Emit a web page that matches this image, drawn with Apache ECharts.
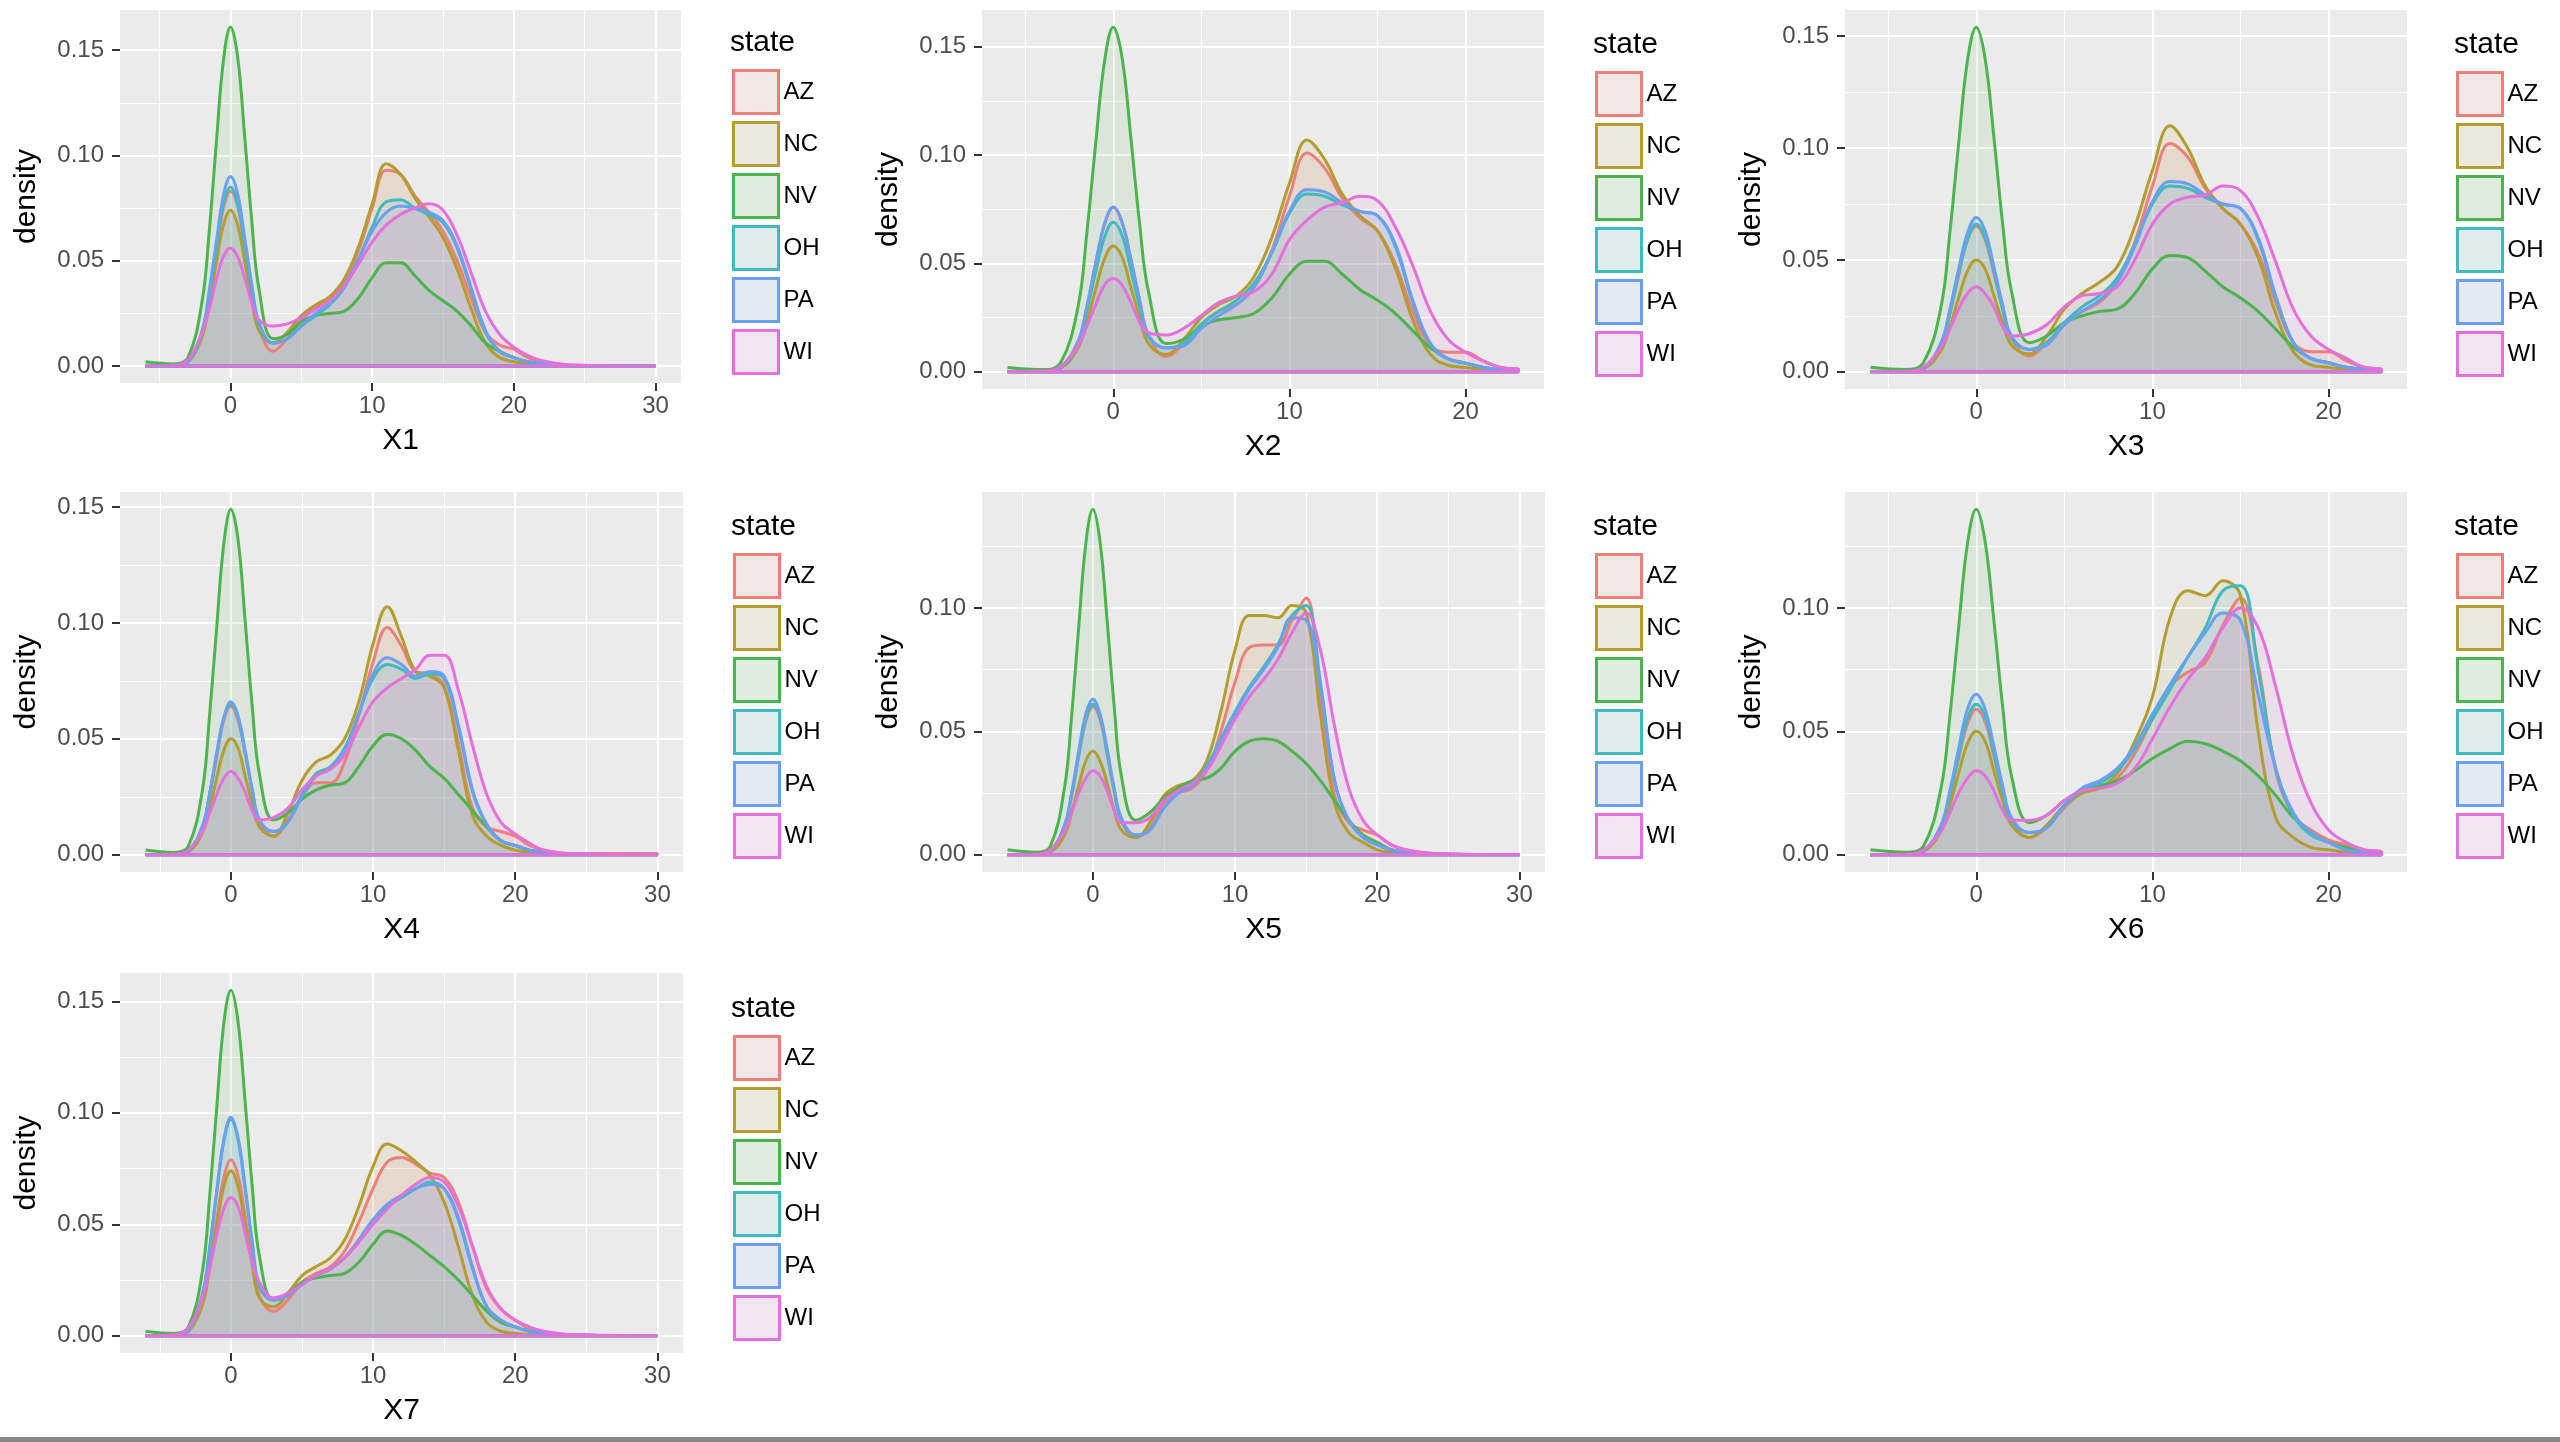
<!DOCTYPE html>
<html>
<head>
<meta charset="utf-8">
<title>density by state</title>
<script src="https://cdn.jsdelivr.net/npm/echarts@6/dist/echarts.min.js"></script>
<style>
  html, body { margin: 0; padding: 0; background: #fff; }
  #chart { width: 2560px; height: 1442px; }
</style>
</head>
<body>
<div id="chart"></div>
<script>
// states, in legend order, with the ggplot hue colours
const states = ['AZ', 'NC', 'NV', 'OH', 'PA', 'WI']
const stateColors = ['#EC8078', '#B39D2E', '#4CB44C', '#3FBBBF', '#6B9FF0', '#E56FDC']
const panelNames = ['X1', 'X2', 'X3', 'X4', 'X5', 'X6', 'X7']

// x positions the densities were read at
const xsWide = [-6, -4, -3, -2, -1.5, -1, -0.5, 0, 0.5, 1, 1.5, 2,
  3, 4, 5, 6, 7, 8, 9, 10, 11, 12, 13, 14, 15, 16, 17, 18, 19, 20, 21, 22, 24, 30]
const xsNarrow = [-6, -4, -3, -2, -1.5, -1, -0.5, 0, 0.5, 1, 1.5, 2,
  3, 4, 5, 6, 7, 8, 9, 10, 11, 12, 13, 14, 15, 16, 17, 18, 19, 20, 21, 22, 23]

// tick labels
const xTickValues = [0, 10, 20, 30]
const yTickValues = [0, 0.05, 0.10, 0.15]

// X1
const x1AZ = [0, 0, 0.002, 0.016, 0.033, 0.055, 0.075, 0.083, 0.076, 0.056, 0.036, 0.019,
  0.007, 0.013, 0.022, 0.028, 0.032, 0.039, 0.054, 0.075, 0.093, 0.091, 0.081, 0.073, 0.064, 0.050, 0.032, 0.016, 0.010, 0.008, 0.004, 0.002, 0.0005, 0]
const x1NC = [0, 0, 0.0018, 0.014, 0.030, 0.049, 0.067, 0.074, 0.067, 0.050, 0.032, 0.017,
  0.011, 0.016, 0.024, 0.029, 0.033, 0.041, 0.056, 0.077, 0.096, 0.091, 0.080, 0.071, 0.061, 0.046, 0.027, 0.011, 0.004, 0.002, 0.001, 0.0005, 0, 0]
const x1NV = [0.002, 0.001, 0.004, 0.031, 0.064, 0.106, 0.145, 0.161, 0.147, 0.109, 0.069, 0.037,
  0.013, 0.015, 0.021, 0.024, 0.025, 0.026, 0.032, 0.042, 0.049, 0.049, 0.043, 0.036, 0.031, 0.026, 0.019, 0.011, 0.007, 0.004, 0.002, 0.001, 0.0003, 0]
const x1OH = [0, 0, 0.002, 0.016, 0.034, 0.056, 0.077, 0.085, 0.077, 0.058, 0.037, 0.020,
  0.011, 0.013, 0.019, 0.024, 0.029, 0.037, 0.050, 0.066, 0.078, 0.079, 0.075, 0.072, 0.068, 0.056, 0.036, 0.016, 0.007, 0.004, 0.002, 0.001, 0.0003, 0]
const x1PA = [0, 0, 0.002, 0.017, 0.036, 0.059, 0.081, 0.090, 0.082, 0.061, 0.039, 0.021,
  0.011, 0.013, 0.019, 0.025, 0.030, 0.038, 0.050, 0.064, 0.073, 0.076, 0.075, 0.073, 0.069, 0.057, 0.037, 0.017, 0.007, 0.004, 0.002, 0.001, 0.0003, 0]
const x1WI = [0, 0.0003, 0.003, 0.016, 0.027, 0.041, 0.052, 0.056, 0.052, 0.042, 0.030, 0.022,
  0.019, 0.020, 0.023, 0.027, 0.031, 0.038, 0.048, 0.059, 0.067, 0.072, 0.075, 0.077, 0.074, 0.062, 0.044, 0.026, 0.015, 0.009, 0.005, 0.0025, 0.0005, 0]

// X2
const x2AZ = [0, 0, 0.002, 0.014, 0.030, 0.050, 0.068, 0.076, 0.069, 0.052, 0.033, 0.017,
  0.007, 0.013, 0.022, 0.028, 0.031, 0.039, 0.056, 0.081, 0.101, 0.094, 0.080, 0.071, 0.065, 0.050, 0.028, 0.012, 0.009, 0.009, 0.005, 0.002, 0.001]
const x2NC = [0, 0, 0.0014, 0.011, 0.023, 0.038, 0.052, 0.058, 0.053, 0.039, 0.025, 0.013,
  0.008, 0.015, 0.025, 0.031, 0.035, 0.044, 0.062, 0.087, 0.107, 0.098, 0.082, 0.072, 0.065, 0.048, 0.024, 0.008, 0.003, 0.002, 0.001, 0.0005, 0]
const x2NV = [0.002, 0.001, 0.004, 0.030, 0.064, 0.105, 0.143, 0.159, 0.145, 0.108, 0.068, 0.037,
  0.013, 0.015, 0.021, 0.024, 0.025, 0.027, 0.034, 0.045, 0.051, 0.051, 0.045, 0.038, 0.033, 0.027, 0.019, 0.011, 0.006, 0.004, 0.002, 0.001, 0.0005]
const x2OH = [0, 0, 0.0017, 0.013, 0.028, 0.046, 0.062, 0.069, 0.063, 0.047, 0.030, 0.016,
  0.011, 0.013, 0.022, 0.028, 0.033, 0.041, 0.055, 0.073, 0.082, 0.081, 0.077, 0.074, 0.072, 0.058, 0.032, 0.013, 0.006, 0.004, 0.002, 0.001, 0.0005]
const x2PA = [0, 0, 0.002, 0.014, 0.030, 0.050, 0.068, 0.076, 0.069, 0.052, 0.033, 0.017,
  0.011, 0.012, 0.020, 0.026, 0.031, 0.039, 0.055, 0.074, 0.084, 0.083, 0.078, 0.074, 0.072, 0.059, 0.033, 0.013, 0.006, 0.004, 0.002, 0.001, 0.0005]
const x2WI = [0, 0.0003, 0.0024, 0.012, 0.021, 0.031, 0.040, 0.043, 0.040, 0.032, 0.023, 0.018,
  0.017, 0.020, 0.026, 0.032, 0.035, 0.037, 0.045, 0.061, 0.070, 0.076, 0.078, 0.081, 0.079, 0.067, 0.049, 0.028, 0.015, 0.009, 0.005, 0.002, 0.001]

// X3
const x3AZ = [0, 0, 0.0016, 0.012, 0.026, 0.043, 0.059, 0.065, 0.059, 0.044, 0.028, 0.015,
  0.007, 0.013, 0.021, 0.027, 0.031, 0.040, 0.058, 0.083, 0.102, 0.096, 0.082, 0.073, 0.066, 0.053, 0.031, 0.013, 0.009, 0.009, 0.005, 0.002, 0.001]
const x3NC = [0, 0, 0.0012, 0.0095, 0.020, 0.033, 0.045, 0.050, 0.046, 0.034, 0.022, 0.012,
  0.008, 0.016, 0.028, 0.035, 0.040, 0.047, 0.065, 0.090, 0.110, 0.100, 0.083, 0.073, 0.066, 0.051, 0.026, 0.009, 0.003, 0.002, 0.001, 0.0005, 0]
const x3NV = [0.002, 0.001, 0.004, 0.029, 0.062, 0.102, 0.139, 0.154, 0.140, 0.105, 0.066, 0.036,
  0.013, 0.016, 0.022, 0.025, 0.027, 0.028, 0.035, 0.046, 0.052, 0.051, 0.045, 0.038, 0.033, 0.027, 0.019, 0.011, 0.006, 0.004, 0.002, 0.001, 0.0005]
const x3OH = [0, 0, 0.0016, 0.0125, 0.026, 0.044, 0.059, 0.066, 0.060, 0.045, 0.028, 0.015,
  0.010, 0.013, 0.022, 0.029, 0.034, 0.042, 0.057, 0.075, 0.083, 0.082, 0.078, 0.075, 0.073, 0.059, 0.033, 0.013, 0.006, 0.004, 0.002, 0.001, 0.0005]
const x3PA = [0, 0, 0.0017, 0.013, 0.028, 0.046, 0.062, 0.069, 0.063, 0.047, 0.030, 0.016,
  0.010, 0.012, 0.021, 0.027, 0.032, 0.040, 0.056, 0.076, 0.085, 0.084, 0.079, 0.075, 0.073, 0.060, 0.034, 0.013, 0.006, 0.004, 0.002, 0.001, 0.0005]
const x3WI = [0, 0.0002, 0.002, 0.011, 0.019, 0.028, 0.035, 0.038, 0.035, 0.029, 0.020, 0.016,
  0.017, 0.021, 0.029, 0.034, 0.035, 0.038, 0.050, 0.066, 0.075, 0.078, 0.079, 0.083, 0.081, 0.069, 0.049, 0.028, 0.016, 0.010, 0.006, 0.002, 0.001]

// X4
const x4AZ = [0, 0, 0.0015, 0.012, 0.026, 0.042, 0.058, 0.064, 0.058, 0.044, 0.028, 0.015,
  0.008, 0.015, 0.025, 0.031, 0.031, 0.040, 0.060, 0.083, 0.098, 0.090, 0.079, 0.078, 0.073, 0.048, 0.020, 0.012, 0.010, 0.008, 0.004, 0.002, 0.0005, 0.0005]
const x4NC = [0, 0, 0.0012, 0.0095, 0.020, 0.033, 0.045, 0.050, 0.046, 0.034, 0.022, 0.012,
  0.008, 0.018, 0.032, 0.040, 0.043, 0.050, 0.066, 0.091, 0.107, 0.094, 0.079, 0.077, 0.072, 0.045, 0.017, 0.008, 0.004, 0.002, 0.001, 0.0005, 0, 0]
const x4NV = [0.002, 0.001, 0.0036, 0.028, 0.060, 0.098, 0.134, 0.149, 0.136, 0.101, 0.064, 0.035,
  0.015, 0.018, 0.024, 0.028, 0.030, 0.031, 0.038, 0.047, 0.052, 0.050, 0.045, 0.038, 0.033, 0.026, 0.019, 0.012, 0.006, 0.004, 0.002, 0.001, 0.0003, 0]
const x4OH = [0, 0, 0.0016, 0.012, 0.026, 0.043, 0.059, 0.065, 0.059, 0.044, 0.028, 0.015,
  0.010, 0.014, 0.026, 0.035, 0.038, 0.046, 0.061, 0.076, 0.082, 0.080, 0.076, 0.078, 0.076, 0.055, 0.027, 0.013, 0.006, 0.004, 0.002, 0.001, 0.0003, 0]
const x4PA = [0, 0, 0.0016, 0.0125, 0.026, 0.044, 0.059, 0.066, 0.060, 0.045, 0.028, 0.015,
  0.010, 0.014, 0.025, 0.034, 0.037, 0.045, 0.061, 0.078, 0.085, 0.082, 0.077, 0.079, 0.077, 0.056, 0.028, 0.013, 0.006, 0.004, 0.002, 0.001, 0.0003, 0]
const x4WI = [0, 0.0002, 0.002, 0.010, 0.018, 0.026, 0.033, 0.036, 0.033, 0.027, 0.019, 0.015,
  0.016, 0.020, 0.028, 0.034, 0.037, 0.043, 0.055, 0.066, 0.072, 0.076, 0.080, 0.086, 0.086, 0.071, 0.047, 0.026, 0.014, 0.009, 0.005, 0.002, 0.0005, 0]

// X5
const x5AZ = [0, 0, 0.0014, 0.011, 0.024, 0.040, 0.054, 0.060, 0.055, 0.041, 0.026, 0.014,
  0.007, 0.011, 0.021, 0.025, 0.027, 0.034, 0.050, 0.070, 0.084, 0.085, 0.085, 0.095, 0.104, 0.062, 0.024, 0.013, 0.010, 0.008, 0.004, 0.002, 0.0005, 0]
const x5NC = [0, 0, 0.001, 0.008, 0.017, 0.028, 0.038, 0.042, 0.038, 0.029, 0.018, 0.010,
  0.007, 0.013, 0.024, 0.028, 0.030, 0.038, 0.058, 0.083, 0.097, 0.097, 0.096, 0.101, 0.098, 0.057, 0.021, 0.009, 0.005, 0.002, 0.001, 0.0005, 0, 0]
const x5NV = [0.002, 0.001, 0.0034, 0.027, 0.056, 0.092, 0.126, 0.140, 0.127, 0.095, 0.060, 0.032,
  0.014, 0.017, 0.023, 0.027, 0.030, 0.031, 0.035, 0.042, 0.046, 0.047, 0.046, 0.042, 0.037, 0.030, 0.022, 0.014, 0.008, 0.005, 0.002, 0.001, 0.0003, 0]
const x5OH = [0, 0, 0.0015, 0.0116, 0.024, 0.040, 0.055, 0.061, 0.056, 0.041, 0.026, 0.014,
  0.008, 0.010, 0.019, 0.025, 0.028, 0.036, 0.047, 0.058, 0.068, 0.076, 0.085, 0.097, 0.101, 0.070, 0.030, 0.014, 0.007, 0.004, 0.002, 0.001, 0.0003, 0]
const x5PA = [0, 0, 0.0015, 0.012, 0.025, 0.042, 0.057, 0.063, 0.057, 0.043, 0.027, 0.015,
  0.008, 0.010, 0.019, 0.025, 0.028, 0.035, 0.046, 0.057, 0.067, 0.075, 0.084, 0.096, 0.095, 0.068, 0.030, 0.014, 0.007, 0.004, 0.002, 0.001, 0.0003, 0]
const x5WI = [0, 0.0002, 0.0019, 0.0095, 0.017, 0.025, 0.031, 0.034, 0.032, 0.026, 0.018, 0.013,
  0.013, 0.015, 0.022, 0.026, 0.029, 0.034, 0.044, 0.055, 0.064, 0.071, 0.079, 0.090, 0.098, 0.083, 0.052, 0.027, 0.014, 0.008, 0.004, 0.002, 0.0005, 0]

// X6
const x6AZ = [0, 0, 0.0014, 0.011, 0.024, 0.039, 0.053, 0.059, 0.054, 0.040, 0.025, 0.014,
  0.007, 0.011, 0.019, 0.025, 0.027, 0.031, 0.041, 0.055, 0.068, 0.074, 0.078, 0.093, 0.104, 0.077, 0.034, 0.016, 0.010, 0.006, 0.004, 0.002, 0.001]
const x6NC = [0, 0, 0.0012, 0.0095, 0.020, 0.033, 0.045, 0.050, 0.046, 0.034, 0.022, 0.012,
  0.007, 0.012, 0.020, 0.025, 0.027, 0.033, 0.046, 0.064, 0.096, 0.107, 0.105, 0.111, 0.105, 0.050, 0.015, 0.007, 0.003, 0.002, 0.001, 0.0005, 0]
const x6NV = [0.002, 0.001, 0.0034, 0.027, 0.056, 0.092, 0.126, 0.140, 0.127, 0.095, 0.060, 0.032,
  0.013, 0.016, 0.022, 0.026, 0.028, 0.030, 0.034, 0.039, 0.043, 0.046, 0.045, 0.042, 0.038, 0.032, 0.024, 0.015, 0.009, 0.005, 0.003, 0.001, 0.0005]
const x6OH = [0, 0, 0.0015, 0.0116, 0.024, 0.040, 0.055, 0.061, 0.056, 0.041, 0.026, 0.014,
  0.009, 0.011, 0.020, 0.026, 0.029, 0.034, 0.043, 0.055, 0.067, 0.080, 0.092, 0.107, 0.109, 0.075, 0.035, 0.016, 0.008, 0.005, 0.002, 0.001, 0.0005]
const x6PA = [0, 0, 0.0016, 0.012, 0.026, 0.043, 0.059, 0.065, 0.059, 0.044, 0.028, 0.015,
  0.009, 0.011, 0.020, 0.027, 0.030, 0.035, 0.044, 0.057, 0.069, 0.080, 0.090, 0.098, 0.095, 0.065, 0.035, 0.017, 0.009, 0.005, 0.002, 0.001, 0.0005]
const x6WI = [0, 0.0002, 0.0019, 0.0095, 0.017, 0.025, 0.031, 0.034, 0.032, 0.026, 0.018, 0.014,
  0.014, 0.016, 0.022, 0.026, 0.027, 0.029, 0.035, 0.047, 0.060, 0.071, 0.080, 0.092, 0.100, 0.092, 0.068, 0.040, 0.021, 0.010, 0.005, 0.002, 0.001]

// X7
const x7AZ = [0, 0, 0.0019, 0.015, 0.032, 0.052, 0.071, 0.079, 0.072, 0.054, 0.034, 0.018,
  0.011, 0.016, 0.024, 0.028, 0.031, 0.038, 0.051, 0.066, 0.078, 0.080, 0.077, 0.073, 0.071, 0.060, 0.040, 0.021, 0.012, 0.007, 0.003, 0.001, 0.0003, 0]
const x7NC = [0, 0, 0.0018, 0.014, 0.030, 0.049, 0.067, 0.074, 0.067, 0.050, 0.032, 0.017,
  0.013, 0.019, 0.027, 0.031, 0.035, 0.043, 0.058, 0.076, 0.086, 0.083, 0.078, 0.072, 0.060, 0.040, 0.018, 0.006, 0.002, 0.001, 0.0005, 0, 0, 0]
const x7NV = [0.002, 0.001, 0.0037, 0.029, 0.062, 0.102, 0.140, 0.155, 0.141, 0.105, 0.067, 0.036,
  0.016, 0.019, 0.024, 0.026, 0.027, 0.028, 0.033, 0.041, 0.047, 0.045, 0.041, 0.036, 0.031, 0.025, 0.018, 0.011, 0.006, 0.004, 0.002, 0.001, 0.0003, 0]
const x7OH = [0, 0, 0.0023, 0.018, 0.039, 0.064, 0.087, 0.097, 0.088, 0.066, 0.042, 0.022,
  0.016, 0.018, 0.023, 0.027, 0.030, 0.035, 0.043, 0.052, 0.058, 0.062, 0.066, 0.069, 0.066, 0.052, 0.030, 0.013, 0.007, 0.004, 0.002, 0.001, 0.0003, 0]
const x7PA = [0, 0, 0.0024, 0.019, 0.039, 0.065, 0.088, 0.098, 0.089, 0.067, 0.042, 0.023,
  0.016, 0.018, 0.023, 0.027, 0.030, 0.035, 0.043, 0.052, 0.059, 0.063, 0.066, 0.068, 0.066, 0.053, 0.031, 0.013, 0.007, 0.004, 0.002, 0.001, 0.0003, 0]
const x7WI = [0, 0.0004, 0.0035, 0.017, 0.030, 0.045, 0.057, 0.062, 0.058, 0.046, 0.033, 0.024,
  0.017, 0.019, 0.023, 0.027, 0.030, 0.035, 0.042, 0.050, 0.057, 0.063, 0.068, 0.071, 0.069, 0.058, 0.040, 0.022, 0.012, 0.007, 0.004, 0.002, 0.0005, 0]

const panelXs = [xsWide, xsNarrow, xsNarrow, xsWide, xsWide, xsNarrow, xsWide]
const panelCurves = [
  [x1AZ, x1NC, x1NV, x1OH, x1PA, x1WI],
  [x2AZ, x2NC, x2NV, x2OH, x2PA, x2WI],
  [x3AZ, x3NC, x3NV, x3OH, x3PA, x3WI],
  [x4AZ, x4NC, x4NV, x4OH, x4PA, x4WI],
  [x5AZ, x5NC, x5NV, x5OH, x5PA, x5WI],
  [x6AZ, x6NC, x6NV, x6OH, x6PA, x6WI],
  [x7AZ, x7NC, x7NV, x7OH, x7PA, x7WI]
]

// where each panel sits on the page (pixels)
const layout = [
  { left: 120, top: 10, width: 561, height: 373, legendLeft: 732, legendTop: 69 },
  { left: 982, top: 10, width: 562, height: 379, legendLeft: 1595, legendTop: 71 },
  { left: 1845, top: 10, width: 562, height: 379, legendLeft: 2456, legendTop: 71 },
  { left: 120, top: 492, width: 563, height: 380, legendLeft: 733, legendTop: 553 },
  { left: 982, top: 492, width: 563, height: 380, legendLeft: 1595, legendTop: 553 },
  { left: 1845, top: 492, width: 562, height: 380, legendLeft: 2456, legendTop: 553 },
  { left: 120, top: 973, width: 563, height: 380, legendLeft: 733, legendTop: 1035 }
]

const fontFamily = '"Liberation Sans", Arial, Helvetica, sans-serif'

// legend key fill: 10% of the colour over the grey95 key background
function keyFill(hex) {
  const n = parseInt(hex.slice(1), 16)
  const mix = c => Math.round(c * 0.1 + 242 * 0.9)
  return 'rgb(' + mix((n >> 16) & 255) + ',' + mix((n >> 8) & 255) + ',' + mix(n & 255) + ')'
}

function isMultiple(v, step) {
  return Math.abs(v / step - Math.round(v / step)) < 1e-6
}

const grids = []
const xAxes = []
const yAxes = []
const series = []
const legends = []
const graphics = []

panelNames.forEach((name, i) => {
  const box = layout[i]
  const xs = panelXs[i]
  const curves = panelCurves[i]
  const xMin = xs[0]
  const xMax = xs[xs.length - 1]
  const xPad = (xMax - xMin) * 0.05
  let yTop = 0
  curves.forEach(c => c.forEach(v => { if (v > yTop) yTop = v }))
  const yPad = yTop * 0.05
  const xTicks = xTickValues.filter(v => v >= xMin - xPad && v <= xMax + xPad)
  const yTicks = yTickValues.filter(v => v <= yTop + yPad)

  grids.push({
    left: box.left, top: box.top, width: box.width, height: box.height,
    show: true, backgroundColor: '#EBEBEB', borderWidth: 0,
    outerBoundsMode: 'none'
  })

  xAxes.push({
    gridIndex: i,
    type: 'value',
    min: xMin - xPad,
    max: xMax + xPad,
    minInterval: 10,
    maxInterval: 10,
    name: name,
    nameLocation: 'middle',
    nameGap: 43,
    nameTextStyle: { fontSize: 30, color: '#000', fontFamily: fontFamily },
    axisLine: { show: false, onZero: false },
    axisTick: { show: true, length: 8, customValues: xTicks, lineStyle: { color: '#333', width: 2 } },
    axisLabel: {
      customValues: xTicks,
      fontSize: 24, color: '#4D4D4D', margin: 11, fontFamily: fontFamily,
      formatter: v => (isMultiple(v, 10) ? String(v) : '')
    },
    splitLine: { show: true, lineStyle: { color: '#fff', width: 2.2 } },
    minorTick: { show: false, splitNumber: 2 },
    minorSplitLine: { show: true, lineStyle: { color: '#fff', width: 1.1 } }
  })

  yAxes.push({
    gridIndex: i,
    type: 'value',
    min: -yPad,
    max: yTop + yPad,
    minInterval: 0.05,
    maxInterval: 0.05,
    name: 'density',
    nameLocation: 'middle',
    nameGap: 78,
    nameRotate: 90,
    nameTextStyle: { fontSize: 30, color: '#000', fontFamily: fontFamily },
    axisLine: { show: false, onZero: false },
    axisTick: { show: true, length: 8, customValues: yTicks, lineStyle: { color: '#333', width: 2 } },
    axisLabel: {
      customValues: yTicks,
      fontSize: 24, color: '#4D4D4D', margin: 16, fontFamily: fontFamily,
      formatter: v => (isMultiple(v, 0.05) ? v.toFixed(2) : '')
    },
    splitLine: { show: true, lineStyle: { color: '#fff', width: 2.2 } },
    minorTick: { show: false, splitNumber: 2 },
    minorSplitLine: { show: true, lineStyle: { color: '#fff', width: 1.1 } }
  })

  curves.forEach((vals, k) => {
    const pts = xs.map((x, j) => [x, vals[j]])
    // close the outline along the baseline, as geom_density does
    pts.push([xMax, 0], [xMin, 0])
    series.push({
      type: 'line',
      name: states[k],
      xAxisIndex: i,
      yAxisIndex: i,
      data: pts,
      smooth: 0.4,
      symbol: 'none',
      showSymbol: false,
      silent: true,
      lineStyle: { color: stateColors[k], width: 3 },
      itemStyle: { color: stateColors[k] },
      areaStyle: { color: stateColors[k], opacity: 0.1 },
      emphasis: { disabled: true }
    })
  })

  legends.push({
    orient: 'vertical',
    left: box.legendLeft,
    top: box.legendTop,
    padding: 0,
    itemWidth: 45,
    itemHeight: 43,
    itemGap: 6,
    icon: 'rect',
    selectedMode: false,
    textStyle: { fontSize: 24, color: '#000', fontFamily: fontFamily },
    data: states.map((s, k) => ({
      name: s,
      icon: 'rect',
      itemStyle: { color: keyFill(stateColors[k]), borderColor: stateColors[k], borderWidth: 3 }
    }))
  })

  graphics.push({
    type: 'text',
    x: box.legendLeft - 2,
    y: box.legendTop - 26,
    style: { text: 'state', fontSize: 30, fontFamily: fontFamily, fill: '#000', align: 'left', verticalAlign: 'middle' }
  })
})

// grey frame edge along the bottom of the screenshot
graphics.push({
  type: 'rect',
  x: 0,
  y: 1437,
  shape: { x: 0, y: 0, width: 2560, height: 5 },
  style: { fill: '#858585' }
})

const chart = echarts.init(document.getElementById('chart'))
chart.setOption({
  animation: false,
  backgroundColor: '#fff',
  grid: grids,
  xAxis: xAxes,
  yAxis: yAxes,
  legend: legends,
  graphic: graphics,
  series: series
})
</script>
</body>
</html>
